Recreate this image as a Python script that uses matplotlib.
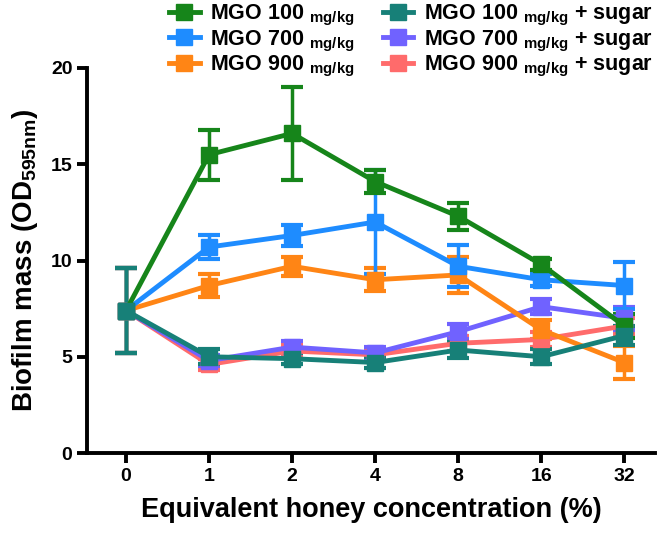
import matplotlib
matplotlib.use("Agg")
import matplotlib.pyplot as plt
from matplotlib.lines import Line2D

plt.rcParams["font.family"] = "Liberation Sans"
plt.rcParams["font.weight"] = "bold"
plt.rcParams["mathtext.fontset"] = "custom"
plt.rcParams["mathtext.rm"] = "Liberation Sans:bold"
plt.rcParams["mathtext.it"] = "Liberation Sans:bold"
plt.rcParams["mathtext.bf"] = "Liberation Sans:bold"

# =============================================================================
#  Données
# =============================================================================
conc_labels = ["0", "1", "2", "4", "8", "16", "32"]

mgo100 = [7.4, 15.5, 16.6, 14.1, 12.3, 9.8, 6.6]
mgo100_err = [2.2, 1.3, 2.4, 0.6, 0.7, 0.3, 0.6]

mgo700 = [7.4, 10.7, 11.3, 12.0, 9.7, 9.0, 8.7]
mgo700_err = [2.2, 0.6, 0.55, 2.7, 1.1, 0.3, 1.2]

mgo900 = [7.4, 8.7, 9.7, 9.0, 9.25, 6.4, 4.7]
mgo900_err = [2.2, 0.6, 0.5, 0.6, 0.95, 0.5, 0.85]

mgo100_sugar = [7.4, 5.0, 4.9, 4.7, 5.35, 5.0, 6.1]
mgo100_sugar_err = [2.2, 0.4, 0.3, 0.3, 0.4, 0.4, 0.5]

mgo700_sugar = [7.4, 4.8, 5.5, 5.2, 6.3, 7.6, 7.0]
mgo700_sugar_err = [2.2, 0.3, 0.3, 0.3, 0.4, 0.4, 0.6]

mgo900_sugar = [7.4, 4.6, 5.3, 5.1, 5.7, 5.9, 6.6]
mgo900_sugar_err = [2.2, 0.3, 0.3, 0.3, 0.4, 0.4, 0.4]

# =============================================================================
#  Graphique
# =============================================================================
series = [
    ("MGO 900 $_{mg/kg}$ + sugar", mgo900_sugar, mgo900_sugar_err, "#FF6B6B"),
    ("MGO 700 $_{mg/kg}$ + sugar", mgo700_sugar, mgo700_sugar_err, "#7062FF"),
    ("MGO 900 $_{mg/kg}$", mgo900, mgo900_err, "#FF8515"),
    ("MGO 700 $_{mg/kg}$", mgo700, mgo700_err, "#1E8CFF"),
    ("MGO 100 $_{mg/kg}$", mgo100, mgo100_err, "#16851A"),
    ("MGO 100 $_{mg/kg}$ + sugar", mgo100_sugar, mgo100_sugar_err, "#178078"),
]

fig = plt.figure(figsize=(6.66, 5.34), dpi=100)
ax = fig.add_axes([87 / 666, (534 - 453) / 534, (655 - 87) / 666, (453 - 68) / 534])

x = list(range(len(conc_labels)))
for label, y, err, color in series:
    ax.errorbar(x, y, yerr=err, color=color, linewidth=3.5, marker="s", markersize=12,
                capsize=8, capthick=3, elinewidth=2.5)

ax.set_xlim(-0.47, 6.37)
ax.set_ylim(0, 20)
ax.set_xticks(x)
ax.set_xticklabels(conc_labels)
ax.set_yticks([0, 5, 10, 15, 20])

for s in ["top", "right"]:
    ax.spines[s].set_visible(False)
for s in ["left", "bottom"]:
    ax.spines[s].set_linewidth(2.8)
ax.tick_params(width=2.8, length=7, labelsize=14)

ax.set_xlabel("Equivalent honey concentration (%)", fontsize=19.5, fontweight="bold", labelpad=9)
ax.set_ylabel("Biofilm mass (OD$_{595nm}$)", fontsize=20, fontweight="bold", labelpad=8)

# Légende en deux colonnes
order = [4, 3, 2, 5, 1, 0]
handles = [Line2D([0], [0], color=series[i][3], linewidth=3.5, marker="s", markersize=12)
           for i in order]
labels = [series[i][0] for i in order]
fig.legend(handles, labels, loc="upper left", bbox_to_anchor=(150 / 666, 1.03), ncol=2,
           frameon=False, fontsize=15.5, handlelength=1.4, handletextpad=0.5,
           columnspacing=1.3, labelspacing=0.0)

plt.savefig("out.png", dpi=100)
